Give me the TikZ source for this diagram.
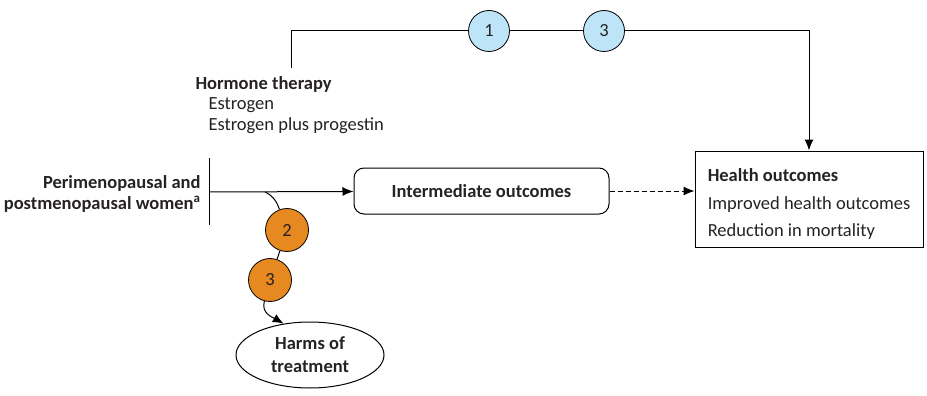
\documentclass[tikz,border=0pt]{standalone}
\usepackage{fontspec}
\setmainfont{Carlito}
\usetikzlibrary{shapes.geometric, arrows.meta, positioning}
\definecolor{kqblue}{RGB}{190,229,247}
\definecolor{kqorange}{RGB}{229,137,32}
\definecolor{txtgray}{RGB}{38,34,35}

\begin{document}
\begin{tikzpicture}[
      x=1pt, y=1pt,
      font=\fontsize{18.5}{22}\selectfont, text=txtgray,
      line width=1pt,
      kq/.style={circle, draw, line width=0.8pt, minimum size=41pt, inner sep=0pt},
      kqtop/.style={kq, fill=kqblue},
      kqlow/.style={kq, fill=kqorange, minimum size=43pt},
      arrow/.style={-{Latex[length=11pt, width=9pt]}},
      txt/.style={inner sep=0pt}
    ]
      \useasboundingbox (0,0) rectangle (927,-396);

      % Interventions
      \node[txt, anchor=base west, font=\fontsize{18.5}{22}\selectfont\bfseries] (hormone) at (195,-89) {Hormone therapy};
      \node[txt, anchor=base west] (estro) at (208,-110) {Estrogen};
      \node[txt, anchor=base west] (estroprog) at (208,-131) {Estrogen plus progestin};

      % Population
      \node[txt, anchor=base east, font=\fontsize{18.5}{22}\selectfont\bfseries] (popa) at (201,-188) {Perimenopausal and};
      \node[txt, anchor=base east, font=\fontsize{18.5}{22}\selectfont\bfseries] (popb) at (201,-209) {postmenopausal women\textsuperscript{a}};
      \coordinate (bartop) at (209,-158);
      \coordinate (barbot) at (209,-225);
      \coordinate (popout) at (209,-192);
      \coordinate (harmsout) at (265,-192);
      \coordinate (hstart) at (291,-68);

      % Outcomes
      \node[rectangle, rounded corners=10pt, draw, minimum width=255pt, minimum height=46pt,
        font=\fontsize{18.5}{22}\selectfont\bfseries] (inter) at (481.5,-191) {Intermediate outcomes};
      \node[rectangle, draw, minimum width=228pt, minimum height=96pt,
        align=left, font=\fontsize{18.5}{27.5}\selectfont] (health) at (809,-199)
        {\rule{0pt}{23pt}\textbf{Health outcomes}\\Improved health outcomes\\Reduction in mortality};
      \node[ellipse, draw, minimum width=148pt, minimum height=66pt, inner sep=0pt, align=center,
        font=\fontsize{18.5}{23}\selectfont\bfseries] (harms) at (310,-355) {Harms of\\treatment};

      % Key questions
      \node[kqtop] (kq1) at (489,-31) {1};
      \node[kqtop] (kq3a) at (604,-31) {3};
      \node[kqlow] (kq2) at (287,-230) {2};
      \node[kqlow] (kq3b) at (270,-280) {3};

      % Connections
      \draw (bartop) -- (barbot);
      \draw[arrow] (popout) -- (inter);
      \draw[arrow, dash pattern=on 5pt off 3pt] (inter.east) -- (inter.east -| health.west);
      \draw (hstart) |- (kq1);
      \draw (kq1) -- (kq3a);
      \draw[arrow] (kq3a) -| (health);
      \draw (harmsout) to[out=-25, in=110] (kq2);
      \draw (kq2) -- (kq3b);
      \draw[arrow] (kq3b) to[out=-105, in=150, looseness=1.1] (harms.130);
    \end{tikzpicture}
\end{document}
